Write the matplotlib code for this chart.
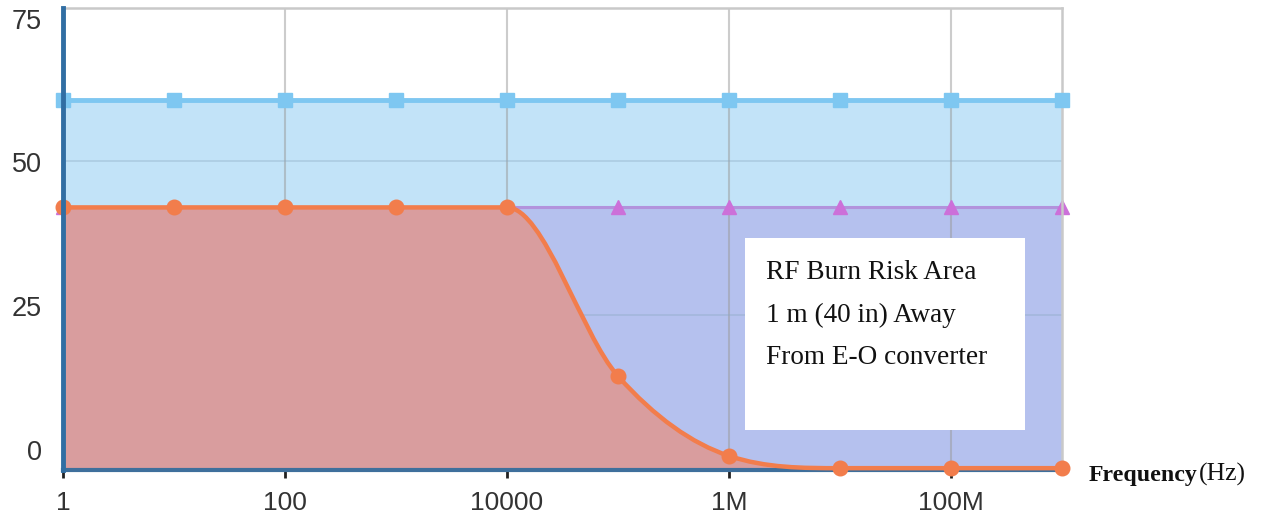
import matplotlib
matplotlib.use("Agg")
import matplotlib.pyplot as plt
import matplotlib.transforms as mtransforms
from matplotlib.path import Path
from matplotlib.patches import PathPatch, Rectangle
import numpy as np

# ---- data ----
freq_hz = [1, 10, 100, 1e3, 1e4, 1e5, 1e6, 1e7, 1e8, 1e9]
blue_limit = [60, 60, 60, 60, 60, 60, 60, 60, 60, 60]
purple_limit = [42.5, 42.5, 42.5, 42.5, 42.5, 42.5, 42.5, 42.5, 42.5, 42.5]
orange_limit = [42.5, 42.5, 42.5, 42.5, 42.5, 15, 2, 0, 0, 0]
x_ticks = [1, 100, 1e4, 1e6, 1e8]
x_tick_labels = ["1", "100", "10000", "1M", "100M"]
y_ticks = [0, 25, 50, 75]
y_tick_labels = ["0", "25", "50", "75"]
box_lines = ["RF Burn Risk Area", "1 m (40 in) Away", "From E-O converter"]

# ---- style ----
C_BLUE_FILL = "#c2e3f8"
C_BLUE_LINE = "#7ec7f1"
C_PURPLE_FILL = "#b5c1ee"
C_PURPLE_LINE = "#b293dc"
C_PURPLE_MARK = "#cc70d9"
C_RED_FILL = "#d99d9e"
C_ORANGE = "#f27d4c"
C_GRID = "#c9c9c9"
C_AXIS = "#316ea3"
C_TEXT = "#333333"
YBOT = -0.3

fig = plt.figure(figsize=(12.65, 5.21), dpi=100)
ax = fig.add_axes([63 / 1265, (521 - 470) / 521, 999 / 1265, 462 / 521])
ax.set_xscale("log")
ax.set_xlim(freq_hz[0], freq_hz[-1])
ax.set_ylim(YBOT, 75)

# fills
ax.fill_between(freq_hz, blue_limit, YBOT, color=C_BLUE_FILL, lw=0, zorder=1)
ax.fill_between(freq_hz, purple_limit, YBOT, color=C_PURPLE_FILL, lw=0, zorder=1.1)


def monotone_tangents(y):
    y = np.asarray(y, float)
    d = np.diff(y)
    m = np.zeros_like(y)
    m[0], m[-1] = d[0], d[-1]
    for i in range(1, len(y) - 1):
        if d[i - 1] * d[i] > 0:
            m[i] = (d[i - 1] + d[i]) / 2
    for i in range(len(d)):
        if d[i] == 0:
            m[i] = m[i + 1] = 0
        else:
            a, b = m[i] / d[i], m[i + 1] / d[i]
            s = a * a + b * b
            if s > 9:
                t = 3 / np.sqrt(s)
                m[i], m[i + 1] = t * a * d[i], t * b * d[i]
    return m


def smooth_path(xs, ys):
    u = np.log10(xs)
    m = monotone_tangents(ys)
    verts = [(xs[0], ys[0])]
    codes = [Path.MOVETO]
    for i in range(len(xs) - 1):
        h = u[i + 1] - u[i]
        verts += [(10 ** (u[i] + h / 3), ys[i] + m[i] * h / 3),
                  (10 ** (u[i + 1] - h / 3), ys[i + 1] - m[i + 1] * h / 3),
                  (xs[i + 1], ys[i + 1])]
        codes += [Path.CURVE4] * 3
    return verts, codes


verts, codes = smooth_path(freq_hz, orange_limit)
fill_verts = [(freq_hz[0], YBOT)] + [verts[0]] + verts[1:] + [(freq_hz[-1], YBOT), (freq_hz[0], YBOT)]
fill_codes = [Path.MOVETO, Path.LINETO] + codes[1:] + [Path.LINETO, Path.CLOSEPOLY]
ax.add_patch(PathPatch(Path(fill_verts, fill_codes), facecolor=C_RED_FILL, lw=0, zorder=1.3))

# grid (above blue/purple areas, below the red area)
for xt in x_ticks[1:]:
    ax.axvline(xt, color="#9a9a9a", alpha=0.5, lw=1.5, zorder=1.15)
for yt in y_ticks[1:3]:
    ax.axhline(yt, color="#8aa8c0", alpha=0.4, lw=1.2, zorder=1.15)

# lines
ax.plot(freq_hz, blue_limit, color=C_BLUE_LINE, lw=3.5, marker="s", ms=9.5,
        mfc=C_BLUE_LINE, mec=C_BLUE_LINE, zorder=3, clip_on=False)
ax.plot(freq_hz, purple_limit, color=C_PURPLE_LINE, lw=2.2, marker="^", ms=10,
        mfc=C_PURPLE_MARK, mec=C_PURPLE_MARK, zorder=1.2, clip_on=False)
ax.add_patch(PathPatch(Path(verts, codes), facecolor="none", edgecolor=C_ORANGE, lw=3.2,
                       zorder=4, clip_on=False))
ax.plot(freq_hz, orange_limit, ls="none", marker="o", ms=10.5, mfc=C_ORANGE,
        mec=C_ORANGE, zorder=4.5, clip_on=False)

# spines
for s in ["top", "right"]:
    ax.spines[s].set_color(C_GRID)
    ax.spines[s].set_linewidth(1.8)
ax.spines["left"].set_color(C_AXIS)
ax.spines["left"].set_linewidth(3.5)
ax.spines["bottom"].set_color("#3e6f9c")
ax.spines["bottom"].set_linewidth(3)
ax.spines["left"].set_zorder(5)

# ticks
ax.set_xticks(x_ticks)
ax.set_xticklabels(x_tick_labels)
ax.xaxis.set_minor_locator(matplotlib.ticker.NullLocator())
ax.tick_params(axis="x", length=6, width=2, color="#222222", pad=9,
               labelsize=19, labelcolor=C_TEXT)
for lab in ax.get_xticklabels():
    lab.set_fontfamily("Liberation Sans")
ax.set_yticks([])

y_label_offsets = [15, 6, -4, -14]
ytrans = mtransforms.blended_transform_factory(ax.transAxes, ax.transData)
for v, lab, dy in zip(y_ticks, y_tick_labels, y_label_offsets):
    tr = mtransforms.offset_copy(ytrans, fig=fig, x=-21, y=dy, units="dots")
    ax.text(0, v, lab, transform=tr, ha="right", va="center", fontsize=19.5,
            color=C_TEXT, family="Liberation Sans", clip_on=False)

# text box
ax.add_patch(Rectangle((0.683, 0.0866), 0.280, 0.4156, transform=ax.transAxes,
                       facecolor="white", edgecolor="none", zorder=6))
for line, yb in zip(box_lines, [0.4134, 0.3203, 0.2294]):
    ax.text(0.7037, yb, line, transform=ax.transAxes, ha="left", va="baseline",
            fontsize=19.6, family="Liberation Serif", color="#111111", zorder=7)

# axis title
fig.text(1089 / 1265, 1 - 481 / 521, "Frequency", ha="left", va="baseline",
         fontsize=17.2, fontweight="bold", family="Liberation Serif", color="#111111")
fig.text(1199 / 1265, 1 - 481 / 521, "(Hz)", ha="left", va="baseline",
         fontsize=18.5, family="Liberation Serif", color="#111111")

fig.savefig("out.png", dpi=100)
